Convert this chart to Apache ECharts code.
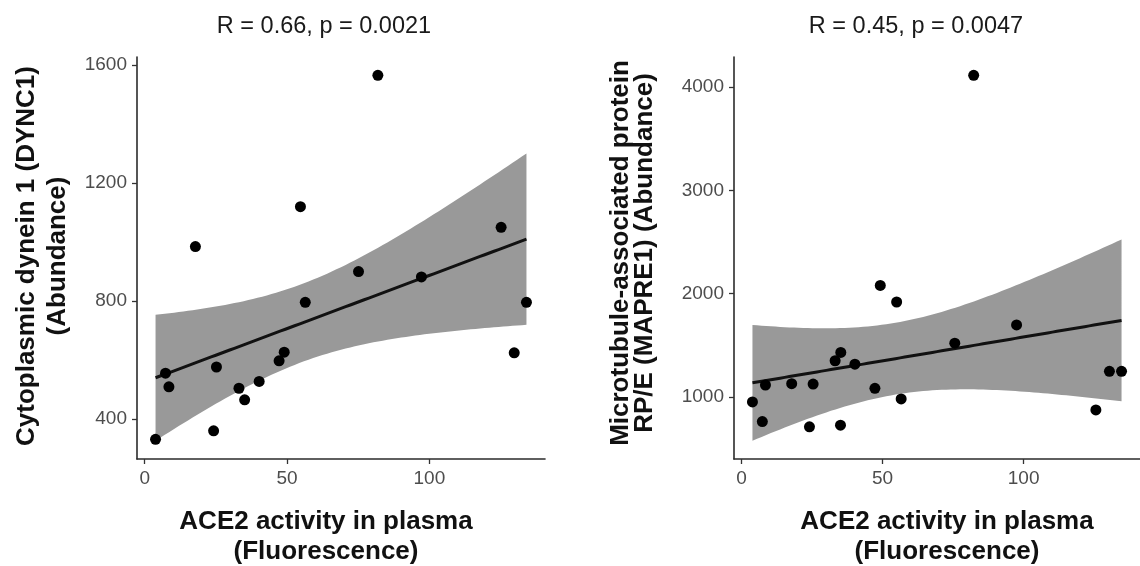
<!DOCTYPE html>
<html>
<head>
<meta charset="utf-8">
<script src="https://cdn.jsdelivr.net/npm/echarts@6/dist/echarts.min.js"></script>
<style>
html,body{margin:0;padding:0;background:#fff;}
#chart{width:1140px;height:566px;}
</style>
</head>
<body>
<div id="chart"></div>
<script>
// ---- Data ----
var leftX = [3.8, 7.3, 8.5, 17.8, 24.2, 25.2, 33.1, 35.1, 40.2, 47.2, 49.0, 54.7, 56.4, 75.1, 81.9, 97.2, 125.2, 129.8, 134.1];
var leftY = [332, 556, 510, 985, 361, 577, 505, 466, 528, 598, 627, 1120, 796, 900, 1565, 882, 1050, 625, 796];

var rightX = [3.9, 7.4, 8.5, 17.8, 24.1, 25.4, 33.2, 35.2, 35.1, 40.2, 47.3, 49.2, 55.0, 56.6, 75.6, 82.3, 97.5, 125.6, 130.4, 134.7];
var rightY = [952, 762, 1116, 1129, 711, 1125, 1351, 1431, 727, 1318, 1084, 2080, 1920, 981, 1521, 4116, 1698, 875, 1248, 1248];

var leftTitle = "R = 0.66, p = 0.0021";
var rightTitle = "R = 0.45, p = 0.0047";
var leftYLabel = "Cytoplasmic dynein 1 (DYNC1)\n(Abundance)";
var rightYLabel = "Microtubule-associated protein\nRP/E (MAPRE1) (Abundance)";
var xLabel = "ACE2 activity in plasma\n(Fluorescence)";

var xTicks = [0, 50, 100];
var leftYTicks = [400, 800, 1200, 1600];
var rightYTicks = [1000, 2000, 3000, 4000];

// ---- Linear fit with 95% confidence band (as geom_smooth(method = "lm")) ----
var T975 = {17: 2.1098, 18: 2.1009, 19: 2.0930, 20: 2.0860};
function fitBand(xs, ys) {
  var n = xs.length, mx = 0, my = 0, i;
  for (i = 0; i < n; i++) { mx += xs[i]; my += ys[i]; }
  mx /= n; my /= n;
  var sxx = 0, sxy = 0, syy = 0;
  for (i = 0; i < n; i++) {
    sxx += (xs[i] - mx) * (xs[i] - mx);
    sxy += (xs[i] - mx) * (ys[i] - my);
    syy += (ys[i] - my) * (ys[i] - my);
  }
  var b = sxy / sxx, a = my - b * mx;
  var s = Math.sqrt((syy - sxy * sxy / sxx) / (n - 2));
  var t = T975[n - 2] || 2.1;
  var x0 = Math.min.apply(null, xs), x1 = Math.max.apply(null, xs);
  var line = [], upper = [], lower = [];
  var steps = 80;
  for (i = 0; i <= steps; i++) {
    var x = x0 + (x1 - x0) * i / steps;
    var yh = a + b * x;
    var se = s * Math.sqrt(1 / n + (x - mx) * (x - mx) / sxx);
    line.push([x, yh]);
    upper.push([x, yh + t * se]);
    lower.push([x, yh - t * se]);
  }
  return {line: line, upper: upper, lower: lower};
}
function expandRange(vals) {
  var lo = Math.min.apply(null, vals), hi = Math.max.apply(null, vals);
  var d = (hi - lo) * 0.05;
  return [lo - d, hi + d];
}

var fitL = fitBand(leftX, leftY);
var fitR = fitBand(rightX, rightY);

function yVals(ys, fit) {
  return ys.concat(fit.upper.map(function (p) { return p[1]; }), fit.lower.map(function (p) { return p[1]; }));
}
var lxR = expandRange(leftX), lyR = expandRange(yVals(leftY, fitL));
var rxR = expandRange(rightX), ryR = expandRange(yVals(rightY, fitR));

var FONT = "'Liberation Sans', Arial, Helvetica, sans-serif";
function plain(v) { return String(v); }

function xAxisCfg(gi, range) {
  return {
    type: 'value', gridIndex: gi, min: range[0], max: range[1],
    splitLine: {show: false},
    axisLine: {show: true, onZero: false, lineStyle: {color: '#2b2b2b', width: 1.6}},
    axisTick: {show: true, length: 5, customValues: xTicks, lineStyle: {color: '#333', width: 1.3}},
    axisLabel: {customValues: xTicks, formatter: plain, color: '#4d4d4d', fontSize: 19, fontFamily: FONT, margin: 10}
  };
}
function yAxisCfg(gi, range, ticks) {
  return {
    type: 'value', gridIndex: gi, min: range[0], max: range[1],
    splitLine: {show: false},
    axisLine: {show: true, onZero: false, lineStyle: {color: '#2b2b2b', width: 1.6}},
    axisTick: {show: true, length: 5, customValues: ticks, lineStyle: {color: '#333', width: 1.3}},
    axisLabel: {customValues: ticks, formatter: plain, color: '#4d4d4d', fontSize: 19, fontFamily: FONT, margin: 10}
  };
}

function bandSeries(idx, fit) {
  return {
    type: 'custom', xAxisIndex: idx, yAxisIndex: idx, z: 1, silent: true,
    data: [[0]],
    renderItem: function (params, api) {
      var pts = [];
      fit.upper.forEach(function (p) { pts.push(api.coord(p)); });
      for (var i = fit.lower.length - 1; i >= 0; i--) pts.push(api.coord(fit.lower[i]));
      return {type: 'polygon', shape: {points: pts}, style: {fill: '#999999', stroke: null}};
    }
  };
}
function lineSeries(idx, fit) {
  return {
    type: 'line', xAxisIndex: idx, yAxisIndex: idx, z: 3, data: fit.line,
    showSymbol: false, smooth: false, silent: true,
    lineStyle: {color: '#111', width: 3}
  };
}
function pointSeries(idx, xs, ys) {
  return {
    type: 'scatter', xAxisIndex: idx, yAxisIndex: idx, z: 4,
    data: xs.map(function (x, i) { return [x, ys[i]]; }),
    symbolSize: 11, itemStyle: {color: '#000', opacity: 1}
  };
}

var chart = echarts.init(document.getElementById('chart'), null, {renderer: 'canvas'});
chart.setOption({
  backgroundColor: '#fff',
  animation: false,
  grid: [
    {left: 137, top: 57, width: 408, height: 402},
    {left: 734, top: 57, width: 410, height: 402}
  ],
  xAxis: [xAxisCfg(0, lxR), xAxisCfg(1, rxR)],
  yAxis: [yAxisCfg(0, lyR, leftYTicks), yAxisCfg(1, ryR, rightYTicks)],
  series: [
    bandSeries(0, fitL), lineSeries(0, fitL), pointSeries(0, leftX, leftY),
    bandSeries(1, fitR), lineSeries(1, fitR), pointSeries(1, rightX, rightY)
  ],
  graphic: [
    {type: 'text', x: 324, y: 27, style: {text: leftTitle, font: '23.5px ' + FONT, fill: '#1a1a1a', textAlign: 'center', textVerticalAlign: 'middle'}},
    {type: 'text', x: 916, y: 27, style: {text: rightTitle, font: '23.5px ' + FONT, fill: '#1a1a1a', textAlign: 'center', textVerticalAlign: 'middle'}},
    {type: 'text', x: 326, y: 537, style: {text: xLabel, font: 'bold 26px ' + FONT, fill: '#111', textAlign: 'center', textVerticalAlign: 'middle', lineHeight: 30}},
    {type: 'text', x: 947, y: 537, style: {text: xLabel, font: 'bold 26px ' + FONT, fill: '#111', textAlign: 'center', textVerticalAlign: 'middle', lineHeight: 30}},
    {type: 'text', x: 42, y: 256, rotation: Math.PI / 2, style: {text: leftYLabel, font: 'bold 26px ' + FONT, fill: '#111', textAlign: 'center', textVerticalAlign: 'middle', lineHeight: 31}},
    {type: 'text', x: 633, y: 253, rotation: Math.PI / 2, style: {text: rightYLabel, font: 'bold 26px ' + FONT, fill: '#111', textAlign: 'center', textVerticalAlign: 'middle', lineHeight: 24}}
  ]
});
</script>
</body>
</html>
